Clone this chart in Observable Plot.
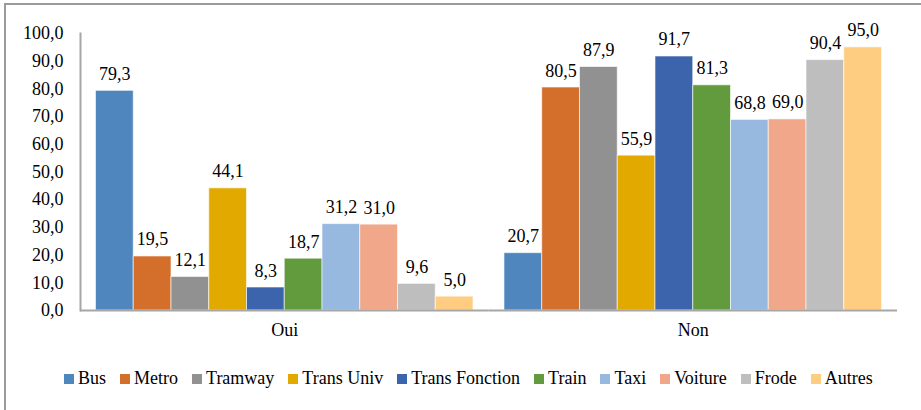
<!DOCTYPE html>
<html>
<head>
<meta charset="utf-8">
<script src="https://cdn.jsdelivr.net/npm/d3@7"></script>
<script src="https://cdn.jsdelivr.net/npm/@observablehq/plot@0.6"></script>
</head>
<body style="margin:0;padding:0;background:#fff;font-family:'Liberation Serif';font-size:18px">
<div id="chart" style="position:absolute;left:0;top:0;font-family:'Liberation Serif'"></div>
<div id="legend" style="position:absolute;left:64px;top:368px;display:flex;align-items:center;color:#000;white-space:nowrap;font-family:'Liberation Serif';font-size:18px"></div>
<div id="box" style="position:absolute;left:4px;top:3px;width:1200px;height:1200px;border:2px solid #9b9b9b;box-sizing:border-box;pointer-events:none"></div>
<script>
const groups = ["Oui", "Non"];
const series = ["Bus", "Metro", "Tramway", "Trans Univ", "Trans Fonction", "Train", "Taxi", "Voiture", "Frode", "Autres"];
const ouiValues = [79.3, 19.5, 12.1, 44.1, 8.3, 18.7, 31.2, 31.0, 9.6, 5.0];
const nonValues = [20.7, 80.5, 87.9, 55.9, 91.7, 81.3, 68.8, 69.0, 90.4, 95.0];
const colors = ["#4f86be", "#d36e2b", "#919191", "#e2aa00", "#3c64ac", "#629a3e", "#98b9df", "#f1a78a", "#bebebe", "#ffcd82"];
const yTicks = [0, 10, 20, 30, 40, 50, 60, 70, 80, 90, 100];

const FONT = "'Liberation Serif'";
const valuesByGroup = {Oui: ouiValues, Non: nonValues};
const data = groups.flatMap(g => series.map((s, i) => ({group: g, series: s, value: valuesByGroup[g][i]})));
const fmt = v => v.toFixed(1).replace(".", ",");

const chart = Plot.plot({
  width: 921,
  height: 350,
  marginLeft: 80,
  marginRight: 24,
  marginTop: 33,
  marginBottom: 40,
  style: {fontFamily: FONT, fontSize: "18px", color: "#000", background: "transparent", overflow: "visible"},
  fx: {domain: groups, padding: 0, round: false, label: null, axis: "bottom", tickSize: 0, tickPadding: 13},
  x: {domain: series, axis: null, round: false, paddingInner: 0, paddingOuter: 0.41},
  y: {domain: [0, 100], ticks: yTicks, tickFormat: fmt, label: null, tickSize: 0, tickPadding: 17},
  color: {domain: series, range: colors},
  marks: [
    Plot.barY(data, {fx: "group", x: "series", y: "value", fill: "series", stroke: "#ffffff", strokeOpacity: 0.6, strokeWidth: 1}),
    Plot.text(data, {fx: "group", x: "series", y: "value", text: d => fmt(d.value), lineAnchor: "bottom", dy: -11, fill: "#000", fontFamily: FONT, fontSize: 18}),
    Plot.ruleY([0], {stroke: "#a6a6a6", strokeWidth: 2}),
    Plot.frame({anchor: "left", facet: "super", stroke: "#a6a6a6", strokeWidth: 2})
  ]
});
document.getElementById("chart").appendChild(chart);

const legend = d3.select("#legend");
series.forEach((s, i) => {
  const item = legend.append("div").style("display", "flex").style("align-items", "center").style("margin-right", "14px");
  item.append("div").style("width", "10px").style("height", "10px").style("margin-right", "4px").style("background", colors[i]);
  item.append("span").style("font-family", FONT).text(s);
});
</script>
</body>
</html>
